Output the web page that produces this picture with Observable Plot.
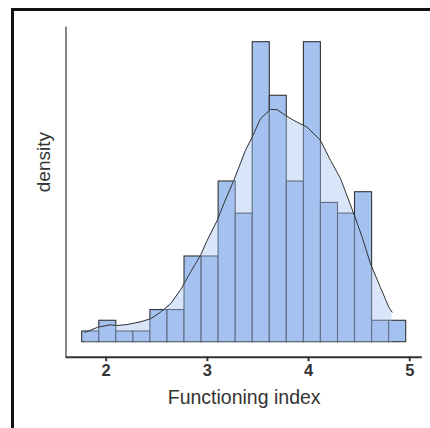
<!DOCTYPE html>
<html>
<head>
<meta charset="utf-8">
<script src="https://cdn.jsdelivr.net/npm/d3@7"></script>
<script src="https://cdn.jsdelivr.net/npm/@observablehq/plot@0.6"></script>
<style>
  html, body { margin: 0; padding: 0; background: #fff; }
  #wrap { position: relative; width: 430px; height: 428px; overflow: hidden; font-family: "Liberation Sans", Arial, sans-serif; }
  #frameTop { position: absolute; left: 11px; top: 8px; width: 430px; height: 3px; background: #111; }
  #frameLeft { position: absolute; left: 11px; top: 8px; width: 3px; height: 430px; background: #111; }
  #chart { position: absolute; left: 0; top: 0; }
</style>
</head>
<body>
<div id="wrap">
  <div id="chart"></div>
  <div id="frameTop"></div>
  <div id="frameLeft"></div>
</div>
<script>
// Histogram bin edges (Functioning index) and counts
const binEdges = [1.763, 1.932, 2.100, 2.269, 2.437, 2.606, 2.774, 2.943, 3.111, 3.280,
                  3.448, 3.617, 3.785, 3.954, 4.122, 4.291, 4.459, 4.628, 4.796, 4.965];
const counts = [1, 2, 1, 1, 3, 3, 8, 8, 15, 12, 28, 23, 15, 28, 13, 12, 14, 2, 2];

// Density curve (scaled to count units)
const densX = [1.789, 1.917, 2.042, 2.109, 2.208, 2.339, 2.438, 2.537, 2.637, 2.736, 2.833,
               2.932, 2.998, 3.097, 3.162, 3.261, 3.376, 3.443, 3.525, 3.624, 3.690, 3.772,
               3.854, 3.986, 4.118, 4.217, 4.315, 4.447, 4.530, 4.612, 4.710, 4.793, 4.826];
const densY = [0.91, 1.40, 1.62, 1.56, 1.65, 1.90, 2.18, 2.80, 3.59, 4.90, 6.54,
               8.10, 9.50, 11.36, 12.92, 15.10, 17.90, 19.14, 20.86, 21.73, 21.70, 21.17,
               20.70, 20.07, 18.83, 16.97, 15.30, 11.99, 9.80, 7.32, 5.13, 3.27, 2.80];

const xTicks = [2, 3, 4, 5];
const xTickLabels = ["2", "3", "4", "5"];
const xDomain = [1.603, 5.124];
const yDomain = [-1.4, 29.4];

const bins = counts.map((c, i) => ({x1: binEdges[i], x2: binEdges[i + 1], y: c}));
const dens = densX.map((x, i) => ({x, y: densY[i]}));
const tickData = xTicks.map((x, i) => ({x, label: xTickLabels[i]}));

const barBlue = "#a4c2f0";
const ink = "#333333";

const chart = Plot.plot({
  width: 430,
  height: 428,
  marginLeft: 65.5,
  marginRight: 8.2,
  marginTop: 26.7,
  marginBottom: 71.3,
  style: {fontFamily: "'Liberation Sans', Arial, sans-serif", background: "transparent", overflow: "visible"},
  x: {domain: xDomain},
  y: {domain: yDomain},
  marks: [
    Plot.rectY(bins, {x1: "x1", x2: "x2", y1: 0, y2: "y", fill: barBlue, stroke: ink, strokeWidth: 1.1, inset: 0}),
    Plot.areaY(dens, {x: "x", y1: 0, y2: "y", fill: barBlue, fillOpacity: 0.42, curve: "linear"}),
    Plot.lineY(dens, {x: "x", y: "y", stroke: ink, strokeWidth: 1, curve: "linear"}),
    Plot.ruleX([xDomain[0]], {stroke: ink, strokeWidth: 1.2}),
    Plot.ruleY([yDomain[0]], {stroke: ink, strokeWidth: 2}),
    Plot.axisX(xTicks, {tickSize: 4.5, tickFormat: () => "", stroke: ink, strokeWidth: 2, label: null}),
    Plot.text(tickData, {x: "x", text: "label", frameAnchor: "bottom", dy: 19, fontSize: 16.5, fontWeight: "bold", fill: ink}),
    Plot.axisY({ticks: [], label: null, tickSize: 0}),
    Plot.text(["Functioning index"], {frameAnchor: "bottom", dy: 46.4, fontSize: 19.5, fill: ink}),
    Plot.text(["density"], {frameAnchor: "left", dx: -22.5, rotate: -90, fontSize: 19, fill: ink})
  ]
});
document.getElementById("chart").appendChild(chart);
</script>
</body>
</html>
